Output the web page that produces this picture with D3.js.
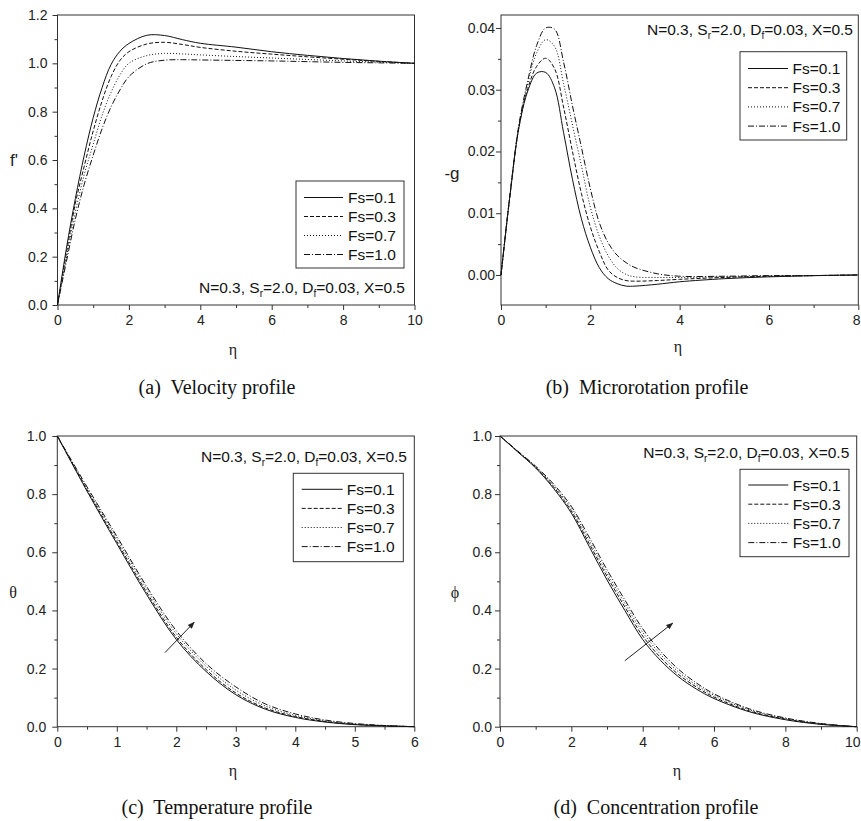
<!DOCTYPE html>
<html>
<head>
<meta charset="utf-8">
<script src="https://cdn.jsdelivr.net/npm/d3@7"></script>
<style>
  body { margin: 0; background: #fff; }
  svg { display: block; }
</style>
</head>
<body>
<svg id="svg"></svg>
<script>
// legend labels and line styles
var fsLabels = ["Fs=0.1", "Fs=0.3", "Fs=0.7", "Fs=1.0"];
var dashes = ["none", "4,2", "1,2", "6,2,1,2"];

// (a) velocity f'
var etaA = [0, 0.25, 0.5, 0.75, 1, 1.25, 1.5, 1.75, 2, 2.5, 3, 3.5, 4, 5, 6, 7, 8, 9, 10];
var velA = [
  [0, 0.235, 0.44, 0.62, 0.775, 0.9, 0.995, 1.05, 1.082, 1.116, 1.115, 1.098, 1.083, 1.067, 1.048, 1.033, 1.02, 1.009, 1.0],
  [0, 0.215, 0.42, 0.575, 0.72, 0.845, 0.945, 1.012, 1.048, 1.08, 1.087, 1.078, 1.066, 1.05, 1.038, 1.027, 1.017, 1.008, 1.0],
  [0, 0.195, 0.385, 0.54, 0.665, 0.785, 0.88, 0.952, 1.0, 1.032, 1.041, 1.039, 1.035, 1.028, 1.022, 1.016, 1.01, 1.005, 1.0],
  [0, 0.18, 0.355, 0.5, 0.62, 0.73, 0.82, 0.89, 0.945, 0.998, 1.013, 1.015, 1.014, 1.012, 1.01, 1.007, 1.004, 1.002, 1.0]
];

// (b) microrotation -g
var etaB = [0, 0.2, 0.4, 0.6, 0.8, 1.0, 1.2, 1.4, 1.6, 1.8, 2.0, 2.2, 2.4, 2.6, 2.8, 3.0, 3.5, 4, 5, 6, 7, 8];
var microB = [
  [0, 0.0128, 0.0238, 0.0298, 0.0327, 0.0328, 0.0303, 0.0231, 0.0155, 0.0091, 0.0045, 0.0012, -0.0006, -0.0014, -0.0018, -0.0018, -0.0015, -0.0011, -0.0006, -0.0003, -0.0001, 0],
  [0, 0.0128, 0.0239, 0.0302, 0.0338, 0.0351, 0.0334, 0.0272, 0.0200, 0.0132, 0.0078, 0.0038, 0.0008, -0.0004, -0.0009, -0.0010, -0.0009, -0.0007, -0.0004, -0.0002, -0.0001, 0],
  [0, 0.0129, 0.0241, 0.0310, 0.0360, 0.0381, 0.0370, 0.0310, 0.0243, 0.0177, 0.0110, 0.0063, 0.0031, 0.0011, 0.0001, -0.0003, -0.0004, -0.0004, -0.0003, -0.0002, -0.0001, 0],
  [0, 0.0130, 0.0243, 0.0315, 0.0372, 0.0400, 0.0398, 0.0345, 0.0274, 0.0207, 0.0140, 0.0085, 0.0052, 0.0032, 0.0020, 0.0012, 0.0002, -0.0002, -0.0002, -0.0001, -0.0001, 0]
];

// (c) temperature theta
var etaC = [0, 0.5, 1, 1.5, 2, 2.5, 3, 3.5, 4, 4.5, 5, 5.5, 6];
var tempC = [
  [1, 0.81, 0.63, 0.455, 0.30, 0.19, 0.11, 0.06, 0.032, 0.016, 0.007, 0.003, 0],
  [1, 0.815, 0.637, 0.463, 0.308, 0.197, 0.116, 0.064, 0.035, 0.018, 0.008, 0.003, 0],
  [1, 0.82, 0.647, 0.474, 0.320, 0.208, 0.126, 0.071, 0.039, 0.020, 0.009, 0.004, 0],
  [1, 0.825, 0.655, 0.483, 0.330, 0.217, 0.137, 0.078, 0.044, 0.023, 0.011, 0.004, 0]
];

// (d) concentration phi
var etaD = [0, 0.5, 1, 1.5, 2, 2.5, 3, 3.5, 4, 4.5, 5, 5.5, 6, 7, 8, 9, 10];
var concD = [
  [1, 0.945, 0.89, 0.82, 0.735, 0.62, 0.505, 0.40, 0.30, 0.228, 0.172, 0.13, 0.097, 0.051, 0.024, 0.008, 0],
  [1, 0.946, 0.892, 0.825, 0.742, 0.63, 0.517, 0.412, 0.312, 0.238, 0.18, 0.137, 0.102, 0.054, 0.026, 0.009, 0],
  [1, 0.947, 0.894, 0.83, 0.75, 0.641, 0.528, 0.424, 0.325, 0.249, 0.189, 0.144, 0.108, 0.058, 0.028, 0.010, 0],
  [1, 0.948, 0.896, 0.835, 0.758, 0.652, 0.54, 0.436, 0.337, 0.26, 0.198, 0.151, 0.113, 0.061, 0.03, 0.011, 0]
];

// arrows (data coords: start, end)
var arrowC = [[1.81, 0.255], [2.30, 0.359]];
var arrowD = [[3.50, 0.227], [4.84, 0.356]];

var width = 861, height = 821;
var svg = d3.select("#svg").attr("width", width).attr("height", height);

var defs = svg.append("defs");
defs.append("marker")
  .attr("id", "head")
  .attr("viewBox", "0 0 10 10")
  .attr("refX", 9).attr("refY", 5)
  .attr("markerWidth", 7).attr("markerHeight", 7)
  .attr("markerUnits", "userSpaceOnUse")
  .attr("orient", "auto")
  .append("path")
  .attr("d", "M0,1 L10,5 L0,9 z")
  .attr("fill", "#222");

var sans = "Arial, 'Liberation Sans', sans-serif";
var serif = "'Times New Roman', 'Liberation Serif', serif";

function drawPanel(c) {
  var g = svg.append("g");
  var x = d3.scaleLinear().domain(c.xDom).range([c.l, c.r]);
  var y = d3.scaleLinear().domain(c.yDom).range([c.b, c.t]);

  // minor ticks
  g.append("g").attr("transform", "translate(0," + c.b + ")")
    .call(d3.axisBottom(x).tickValues(c.xMinor).tickSize(3).tickFormat(""))
    .call(function(s){ s.select(".domain").remove(); });
  g.append("g").attr("transform", "translate(" + c.l + ",0)")
    .call(d3.axisLeft(y).tickValues(c.yMinor).tickSize(3).tickFormat(""))
    .call(function(s){ s.select(".domain").remove(); });

  // major ticks
  var xa = g.append("g").attr("transform", "translate(0," + c.b + ")")
    .call(d3.axisBottom(x).tickValues(c.xMajor).tickSize(5).tickSizeOuter(0)
      .tickPadding(5).tickFormat(d3.format("d")));
  var ya = g.append("g").attr("transform", "translate(" + c.l + ",0)")
    .call(d3.axisLeft(y).tickValues(c.yMajor).tickSize(5).tickSizeOuter(0)
      .tickPadding(c.yPad).tickFormat(d3.format(c.yFmt)));
  [xa, ya].forEach(function(a){
    a.select(".domain").remove();
    a.selectAll("text").attr("font-family", sans).attr("font-size", "14px").attr("fill", "#222");
  });
  g.selectAll(".tick line").attr("stroke", "#333");

  // last x label sits on the page edge: keep it inside
  xa.selectAll(".tick").each(function(){
    var t = d3.select(this).select("text");
    var bb = this.getBBox();
    var tx = x(d3.select(this).datum());
    var half = t.node().getComputedTextLength() / 2;
    if (tx + half > width - 1) t.attr("x", (width - 1) - half - tx);
  });

  // frame
  g.append("rect")
    .attr("x", c.l).attr("y", c.t)
    .attr("width", c.r - c.l).attr("height", c.b - c.t)
    .attr("fill", "none").attr("stroke", "#333").attr("stroke-width", 1);

  // curves
  var line = d3.line()
    .x(function(d){ return x(d[0]); })
    .y(function(d){ return y(d[1]); })
    .curve(d3.curveCatmullRom.alpha(0.5));
  c.series.forEach(function(vals, i){
    var pts = c.eta.map(function(e, k){ return [e, vals[k]]; });
    g.append("path")
      .attr("d", line(pts))
      .attr("fill", "none")
      .attr("stroke", "#111")
      .attr("stroke-width", 1)
      .attr("stroke-dasharray", dashes[i]);
  });

  // parameter note
  var note = g.append("text")
    .attr("x", c.noteX).attr("y", c.noteY)
    .attr("text-anchor", "end")
    .attr("font-family", sans).attr("font-size", "15.5px").attr("fill", "#111");
  note.append("tspan").text("N=0.3, S");
  note.append("tspan").attr("font-size", "10px").attr("dy", 4).text("r");
  note.append("tspan").attr("dy", -4).text("=2.0, D");
  note.append("tspan").attr("font-size", "10px").attr("dy", 4).text("f");
  note.append("tspan").attr("dy", -4).text("=0.03, X=0.5");

  // legend
  var lg = c.legend;
  g.append("rect")
    .attr("x", lg.x0).attr("y", lg.y0)
    .attr("width", lg.x1 - lg.x0).attr("height", lg.y1 - lg.y0)
    .attr("fill", "#fff").attr("stroke", "#333").attr("stroke-width", 1);
  fsLabels.forEach(function(lab, i){
    var yy = lg.row0 + i * lg.step;
    g.append("line")
      .attr("x1", lg.lx0).attr("x2", lg.lx1)
      .attr("y1", yy).attr("y2", yy)
      .attr("stroke", "#111").attr("stroke-width", 1)
      .attr("stroke-dasharray", dashes[i]);
    g.append("text")
      .attr("x", lg.tx).attr("y", yy + 5.5)
      .attr("font-family", sans).attr("font-size", "15.5px").attr("fill", "#111")
      .text(lab);
  });

  // axis titles
  g.append("text")
    .attr("x", c.xLab[0]).attr("y", c.xLab[1])
    .attr("text-anchor", "middle")
    .attr("font-family", serif).attr("font-size", "16px").attr("fill", "#222")
    .text("η");
  g.append("text")
    .attr("x", c.yLab[0]).attr("y", c.yLab[1])
    .attr("text-anchor", "middle")
    .attr("font-family", c.yLabSerif ? serif : sans)
    .attr("font-size", c.yLabSerif ? "16px" : "17px").attr("fill", "#222")
    .text(c.yTitle);

  // arrow
  if (c.arrow) {
    g.append("line")
      .attr("x1", x(c.arrow[0][0])).attr("y1", y(c.arrow[0][1]))
      .attr("x2", x(c.arrow[1][0])).attr("y2", y(c.arrow[1][1]))
      .attr("stroke", "#222").attr("stroke-width", 1)
      .attr("marker-end", "url(#head)");
  }

  // caption
  g.append("text")
    .attr("x", c.cap[0]).attr("y", c.cap[1])
    .attr("text-anchor", "middle")
    .attr("font-family", serif).attr("font-size", "20px").attr("fill", "#111")
    .attr("xml:space", "preserve")
    .text(c.capText);
}

drawPanel({
  l: 57.5, r: 414.5, t: 15, b: 305,
  xDom: [0, 10], yDom: [0, 1.2],
  xMajor: [0, 2, 4, 6, 8, 10], xMinor: d3.range(1, 10, 2),
  yMajor: [0, 0.2, 0.4, 0.6, 0.8, 1.0, 1.2], yMinor: [0.1, 0.3, 0.5, 0.7, 0.9, 1.1],
  yFmt: ".1f", yPad: 5,
  eta: etaA, series: velA,
  noteX: 405, noteY: 293,
  legend: {x0: 296, x1: 404, y0: 181, y1: 268, row0: 197.5, step: 19, lx0: 304, lx1: 343, tx: 348},
  xLab: [233, 355], yLab: [14, 166], yTitle: "f'", yLabSerif: false,
  cap: [217, 394], capText: "(a)  Velocity profile"
});

drawPanel({
  l: 501, r: 858.3, t: 15, b: 305,
  xDom: [0, 8], yDom: [-0.00486, 0.0421],
  xMajor: [0, 2, 4, 6, 8], xMinor: [1, 3, 5, 7],
  yMajor: [0, 0.01, 0.02, 0.03, 0.04], yMinor: [0.005, 0.015, 0.025, 0.035],
  yFmt: ".2f", yPad: 1,
  eta: etaB, series: microB,
  noteX: 853, noteY: 35,
  legend: {x0: 740, x1: 846.7, y0: 51.7, y1: 140, row0: 68.5, step: 19.2, lx0: 748, lx1: 788, tx: 792.5},
  xLab: [678, 352], yLab: [452, 179], yTitle: "-g", yLabSerif: false,
  cap: [647, 394], capText: "(b)  Microrotation profile"
});

drawPanel({
  l: 57.3, r: 414.3, t: 436, b: 726.7,
  xDom: [0, 6], yDom: [0, 1],
  xMajor: [0, 1, 2, 3, 4, 5, 6], xMinor: [0.5, 1.5, 2.5, 3.5, 4.5, 5.5],
  yMajor: [0, 0.2, 0.4, 0.6, 0.8, 1.0], yMinor: [0.1, 0.3, 0.5, 0.7, 0.9],
  yFmt: ".1f", yPad: 6,
  eta: etaC, series: tempC,
  noteX: 407, noteY: 461.5,
  legend: {x0: 293.3, x1: 403.3, y0: 473.3, y1: 561.7, row0: 489.3, step: 19.1, lx0: 301.7, lx1: 342.7, tx: 346.7},
  xLab: [233, 776], yLab: [13, 598], yTitle: "θ", yLabSerif: true,
  arrow: arrowC,
  cap: [217, 814], capText: "(c)  Temperature profile"
});

drawPanel({
  l: 500, r: 856.7, t: 436, b: 726.7,
  xDom: [0, 10], yDom: [0, 1],
  xMajor: [0, 2, 4, 6, 8, 10], xMinor: [1, 3, 5, 7, 9],
  yMajor: [0, 0.2, 0.4, 0.6, 0.8, 1.0], yMinor: [0.1, 0.3, 0.5, 0.7, 0.9],
  yFmt: ".1f", yPad: 3,
  eta: etaD, series: concD,
  noteX: 849.3, noteY: 458,
  legend: {x0: 740, x1: 849, y0: 469.3, y1: 556.7, row0: 485, step: 19.2, lx0: 748.3, lx1: 788.3, tx: 792.7},
  xLab: [677, 776], yLab: [455, 598], yTitle: "ϕ", yLabSerif: true,
  arrow: arrowD,
  cap: [656, 814], capText: "(d)  Concentration profile"
});
</script>
</body>
</html>
